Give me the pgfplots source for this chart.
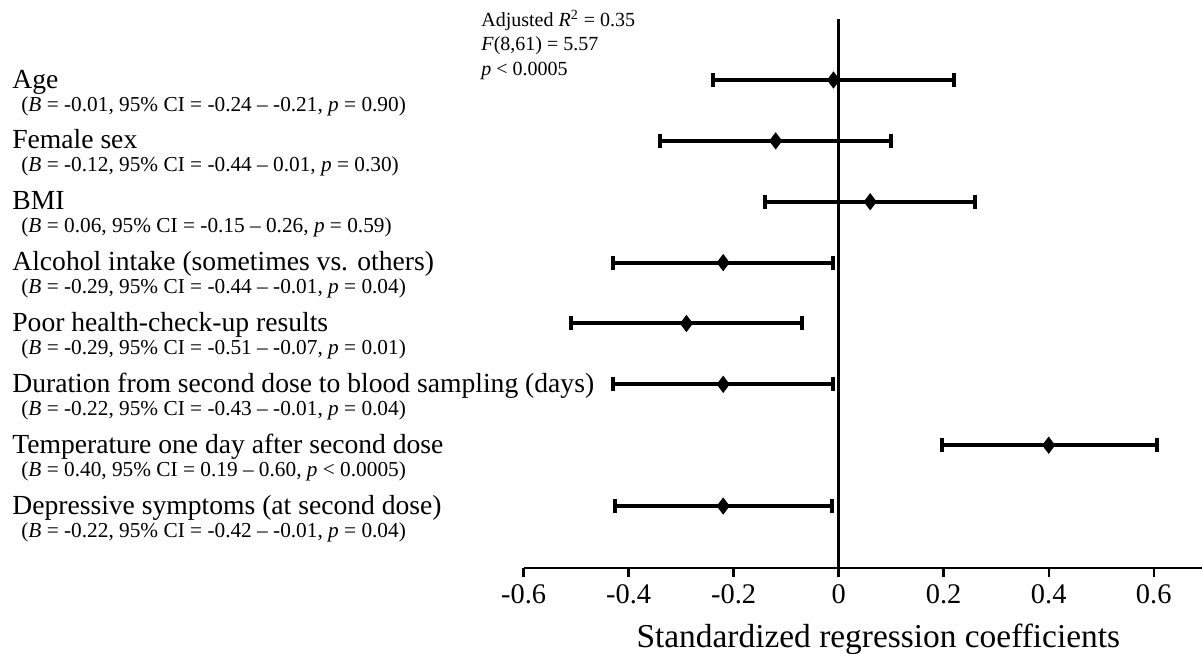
\documentclass[border=0pt]{standalone}
\usepackage{fontspec}
\setmainfont{Liberation Serif}
\usepackage{pgfplots}
\pgfplotsset{compat=1.18}

\newcommand{\mainf}{\fontsize{13.8}{16}\selectfont}
\newcommand{\subf}{\fontsize{10.65}{12}\selectfont}
\newcommand{\notef}{\fontsize{10}{12}\selectfont}
% row label: y position, variable name, statistics line
\newcommand{\lab}[3]{%
  \node[anchor=base west, font=\mainf, inner sep=0pt, yshift=-4pt] at (axis cs:-1.5747,#1) {#2};
  \node[anchor=base west, font=\subf, inner sep=0pt, yshift=-15.5pt] at (axis cs:-1.5575,#1) {#3};}

\begin{document}
\begin{tikzpicture}
\begin{axis}[
  x=262.5pt, y=30.43pt,
  xmin=-0.6, xmax=0.692, ymin=-0.02, ymax=9.31,
  axis x line*=bottom, axis y line=none,
  axis line style={line width=1.2pt, black},
  xtick={-0.6,-0.4,-0.2,0,0.2,0.4,0.6},
  xticklabels={-0.6,-0.4,-0.2,0,0.2,0.4,0.6},
  tick align=outside, major tick length=4.5pt,
  xtick style={line width=1.2pt, black},
  ytick=\empty,
  tick label style={font=\fontsize{14.2}{16}\selectfont},
  xlabel={Standardized regression coefficients},
  xlabel style={font=\fontsize{16.7}{19}\selectfont,
    at={(axis description cs:0.5228,0)}, anchor=center, yshift=-35.5pt},
  clip=false,
]
% zero line
\addplot[black, line width=1.5pt, mark=none] coordinates {(0,-0.02) (0,9)};

% coefficients with 95% CI
\addplot[black, only marks, mark=diamond*, mark size=4pt,
  mark options={line width=0.4pt, fill=black},
  error bars/.cd, x dir=both, x explicit,
  error bar style={line width=2pt, black},
  error mark=|,
  error mark options={line width=2pt, mark size=3.5pt, black}]
  table[x=x, y=y, x error minus=xm, x error plus=xp] {
x      y  xm     xp
-0.01  8  0.23   0.23
-0.12  7  0.22   0.22
0.06   6  0.20   0.20
-0.22  5  0.21   0.21
-0.29  4  0.22   0.22
-0.22  3  0.21   0.21
0.40   2  0.203  0.206
-0.22  1  0.206  0.207
};

\lab{8}{Age}{(\textit{B} = -0.01, 95\% CI = -0.24 -- -0.21, \textit{p} = 0.90)}
\lab{7}{Female sex}{(\textit{B} = -0.12, 95\% CI = -0.44 -- 0.01, \textit{p} = 0.30)}
\lab{6}{BMI}{(\textit{B} = 0.06, 95\% CI = -0.15 -- 0.26, \textit{p} = 0.59)}
\lab{5}{Alcohol intake (sometimes vs. others)}{(\textit{B} = -0.29, 95\% CI = -0.44 -- -0.01, \textit{p} = 0.04)}
\lab{4}{Poor health-check-up results}{(\textit{B} = -0.29, 95\% CI = -0.51 -- -0.07, \textit{p} = 0.01)}
\lab{3}{Duration from second dose to blood sampling (days)}{(\textit{B} = -0.22, 95\% CI = -0.43 -- -0.01, \textit{p} = 0.04)}
\lab{2}{Temperature one day after second dose}{(\textit{B} = 0.40, 95\% CI = 0.19 -- 0.60, \textit{p} < 0.0005)}
\lab{1}{Depressive symptoms (at second dose)}{(\textit{B} = -0.22, 95\% CI = -0.42 -- -0.01, \textit{p} = 0.04)}

\node[anchor=base west, font=\notef, inner sep=0pt] at (axis cs:-0.6813,8.871) {Adjusted \textit{R}\textsuperscript{2} = 0.35};
\node[anchor=base west, font=\notef, inner sep=0pt] at (axis cs:-0.6813,8.477) {\textit{F}(8,61) = 5.57};
\node[anchor=base west, font=\notef, inner sep=0pt] at (axis cs:-0.6813,8.082) {\textit{p} < 0.0005};

\coordinate (bbtl) at (axis cs:-1.5975,9.3145);
\coordinate (bbbr) at (axis cs:0.692,-1.415);
\end{axis}
\pgfresetboundingbox
\path[use as bounding box] (bbtl) rectangle (bbbr);
\end{tikzpicture}
\end{document}
